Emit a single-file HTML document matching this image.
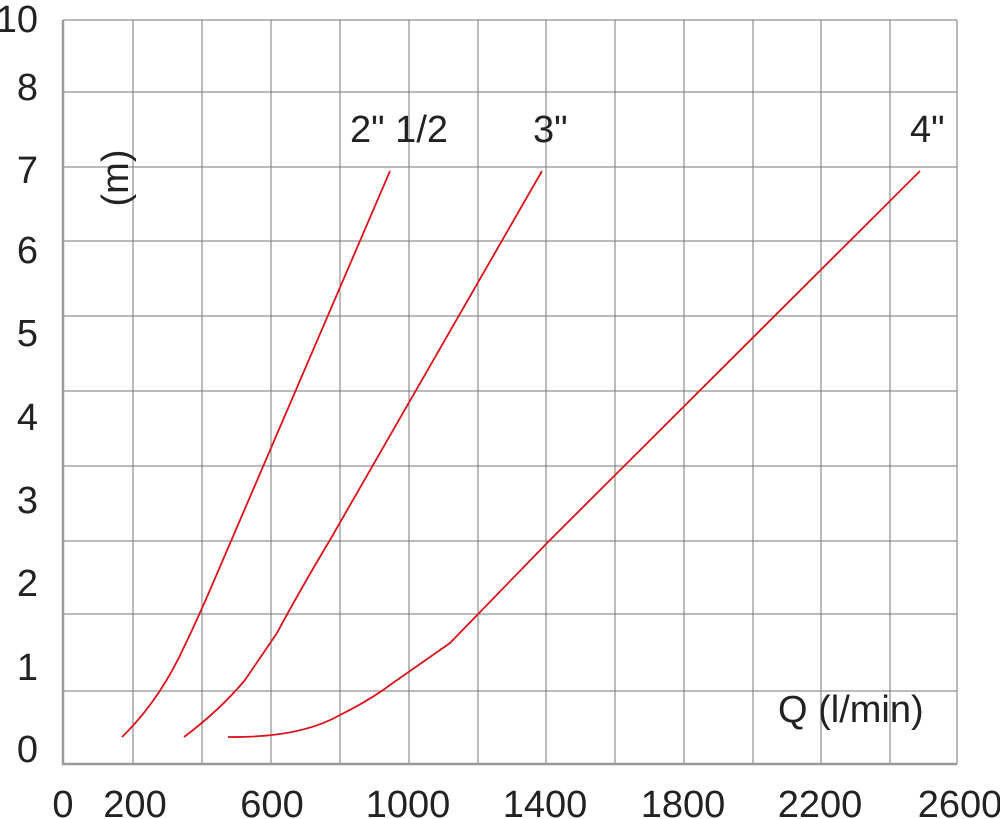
<!DOCTYPE html>
<html><head><style>body{margin:0;background:#fff}svg{display:block}</style></head><body>
<svg width="1000" height="819" xmlns="http://www.w3.org/2000/svg" font-family="Liberation Sans, DejaVu Sans, sans-serif" fill="#222">
<g stroke="#777" stroke-width="1">
<line x1="133" y1="20" x2="133" y2="764"/><line x1="202" y1="20" x2="202" y2="764"/><line x1="271" y1="20" x2="271" y2="764"/><line x1="340" y1="20" x2="340" y2="764"/><line x1="409" y1="20" x2="409" y2="764"/><line x1="478" y1="20" x2="478" y2="764"/><line x1="546" y1="20" x2="546" y2="764"/><line x1="615" y1="20" x2="615" y2="764"/><line x1="684" y1="20" x2="684" y2="764"/><line x1="753" y1="20" x2="753" y2="764"/><line x1="821" y1="20" x2="821" y2="764"/><line x1="890" y1="20" x2="890" y2="764"/><line x1="957" y1="20" x2="957" y2="764"/>
<line x1="63" y1="20" x2="957" y2="20"/><line x1="63" y1="92" x2="957" y2="92"/><line x1="63" y1="167" x2="957" y2="167"/><line x1="63" y1="241" x2="957" y2="241"/><line x1="63" y1="316" x2="957" y2="316"/><line x1="63" y1="391" x2="957" y2="391"/><line x1="63" y1="466" x2="957" y2="466"/><line x1="63" y1="541" x2="957" y2="541"/><line x1="63" y1="614" x2="957" y2="614"/><line x1="63" y1="691" x2="957" y2="691"/>
</g>
<g stroke="#999" stroke-width="2.5"><line x1="63" y1="20" x2="63" y2="765"/><line x1="62" y1="764" x2="957" y2="764"/></g>
<g fill="none" stroke="#d9141c" stroke-width="1.8">
<path d="M122,737 Q160,700 185,645 Q197,620 210,590 L390,171"/>
<path d="M184,737 Q220,710 245,680 L277,633 Q300,590 330,540 L542,171"/>
<path d="M228,737 Q300,738 340,715 Q370,700 390,685 L450,643 L550,540 L920,171"/>
</g>
<g font-size="38" text-anchor="end">
<text x="38" y="32">10</text><text x="38" y="100">8</text><text x="38" y="183">7</text><text x="38" y="263">6</text><text x="38" y="346">5</text><text x="38" y="430">4</text><text x="38" y="513">3</text><text x="38" y="596">2</text><text x="38" y="680">1</text><text x="38" y="762">0</text>
</g>
<g font-size="38" text-anchor="middle">
<text x="63" y="817">0</text><text x="135" y="817">200</text><text x="272" y="817">600</text><text x="408" y="817">1000</text><text x="545" y="817">1400</text><text x="683" y="817">1800</text><text x="820" y="817">2200</text><text x="960" y="817">2600</text>
</g>
<g font-size="38">
<text x="350" y="142">2" 1/2</text><text x="533" y="142">3"</text><text x="910" y="142">4"</text>
<text x="778" y="722">Q (l/min)</text>
<text transform="translate(128,178) rotate(-90)" text-anchor="middle">(m)</text>
</g>
</svg>
</body></html>
